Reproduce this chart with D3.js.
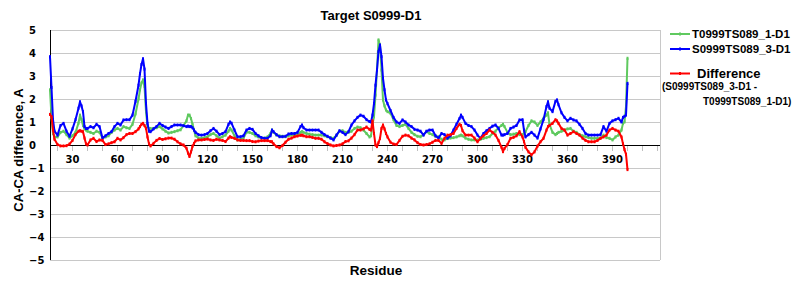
<!DOCTYPE html>
<html>
<head>
<meta charset="utf-8">
<script src="https://cdn.jsdelivr.net/npm/d3@7"></script>
<style>
    body { margin: 0; background: #fff; }
    svg { display: block; }
</style>
</head>
<body>
<svg width="800" height="300"></svg>
<script>
// residue numbers (shared by all three series)
var residues = [15,16,17,18,20,22,24,26,28,30,32,34,35,36,37,38,39,40,42,44,46,48,50,52,54,56,58,60,62,64,66,68,70,72,74,75,76,77,78,79,80,81,82,84,86,88,90,92,94,96,98,100,102,104,106,107,108,109,110,111,112,114,116,118,120,122,124,126,128,130,132,134,135,136,138,140,142,144,146,148,150,152,154,156,158,160,162,163,164,166,168,170,172,174,176,178,180,182,183,184,186,188,190,192,194,196,198,200,202,204,206,208,210,212,214,216,218,220,222,224,226,228,229,230,231,232,233,234,235,236,237,238,239,240,242,244,246,248,250,252,254,256,258,260,262,264,266,268,270,272,274,276,278,280,282,284,286,288,289,290,292,294,296,298,300,302,304,306,308,310,312,314,316,317,318,320,322,324,326,328,330,331,332,334,336,338,340,342,344,346,347,348,350,352,353,354,356,358,360,362,364,366,368,370,372,374,376,378,380,382,384,386,388,390,392,394,396,397,398,399,400];

var model1 = [2.4,1.2,0.5,0.35,0.35,0.55,0.6,0.45,0.3,0.4,0.55,0.95,1.3,1.1,0.85,0.7,0.65,0.6,0.55,0.5,0.6,0.55,0.3,0.35,0.4,0.55,0.65,0.72,0.65,0.8,0.75,0.72,0.9,1.35,2.0,2.4,2.7,2.83,2.55,1.45,0.8,0.72,0.72,0.72,0.75,0.8,0.7,0.6,0.52,0.55,0.58,0.62,0.66,0.85,1.05,1.3,1.3,1.15,0.9,0.65,0.4,0.3,0.29,0.32,0.36,0.45,0.5,0.4,0.3,0.36,0.43,0.6,0.72,0.65,0.4,0.22,0.25,0.3,0.55,0.55,0.5,0.4,0.35,0.3,0.3,0.35,0.5,0.65,0.55,0.43,0.4,0.38,0.36,0.4,0.43,0.43,0.45,0.55,0.58,0.55,0.5,0.47,0.45,0.43,0.43,0.43,0.4,0.36,0.32,0.29,0.42,0.6,0.62,0.55,0.55,0.6,0.72,0.78,0.75,0.65,0.5,0.35,0.4,0.9,1.23,2.17,3.26,4.57,4.35,3.26,1.96,1.7,1.52,1.45,1.38,1.1,0.85,0.8,0.85,0.9,0.72,0.55,0.45,0.38,0.36,0.45,0.58,0.5,0.45,0.38,0.36,0.25,0.22,0.28,0.3,0.32,0.35,0.4,0.43,0.4,0.3,0.25,0.22,0.22,0.22,0.25,0.29,0.32,0.36,0.5,0.6,0.75,0.85,0.9,0.8,0.55,0.45,0.47,0.5,0.45,0.45,0.5,0.58,0.85,1.05,1.0,0.85,1.0,1.16,1.3,1.4,0.9,0.55,0.45,0.5,0.55,0.6,0.65,0.7,0.72,0.6,0.55,0.45,0.4,0.36,0.32,0.29,0.29,0.29,0.3,0.43,0.32,0.29,0.22,0.35,0.43,0.65,0.94,1.0,1.67,3.77];

var model3 = [3.84,2.5,1.1,0.6,0.43,0.85,0.94,0.6,0.38,0.7,1.1,1.6,1.88,1.7,1.45,0.8,0.72,0.72,0.8,0.75,0.9,0.8,0.3,0.4,0.5,0.58,0.8,0.94,0.87,1.09,1.1,1.1,1.3,1.9,2.6,3.1,3.5,3.75,3.3,1.8,0.94,0.6,0.58,0.7,0.8,0.94,0.85,0.78,0.72,0.8,0.87,0.87,0.87,0.84,0.8,0.82,0.8,0.8,0.75,0.65,0.55,0.45,0.43,0.45,0.5,0.62,0.72,0.6,0.45,0.5,0.58,0.9,1.0,0.95,0.65,0.36,0.36,0.4,0.65,0.72,0.68,0.5,0.4,0.32,0.29,0.29,0.4,0.65,0.58,0.45,0.36,0.36,0.38,0.48,0.5,0.5,0.55,0.8,0.87,0.75,0.65,0.65,0.65,0.65,0.65,0.55,0.45,0.38,0.3,0.22,0.43,0.62,0.55,0.45,0.58,0.87,1.05,1.2,1.3,1.25,1.1,1.02,1.0,1.3,1.8,2.6,3.26,4.06,4.35,3.84,2.9,2.4,1.96,1.8,1.5,1.2,1.0,0.94,1.09,1.0,0.87,0.8,0.68,0.65,0.6,0.43,0.6,0.65,0.65,0.4,0.3,0.5,0.45,0.3,0.4,0.65,0.9,1.15,1.3,1.2,0.94,0.85,0.8,0.65,0.43,0.29,0.5,0.62,0.72,0.82,0.87,0.72,0.43,0.43,0.45,0.5,0.72,0.78,0.85,1.09,1.1,0.65,0.35,0.45,0.55,0.43,0.3,0.7,1.1,1.67,1.88,1.6,1.45,1.9,1.96,1.75,1.4,1.2,1.05,1.16,1.09,1.05,0.9,0.72,0.5,0.43,0.43,0.43,0.43,0.45,0.8,0.6,0.94,1.05,1.1,1.16,1.0,1.2,1.25,1.3,2.68];

var diff = [1.33,1.23,0.65,0.25,0.02,-0.04,-0.04,-0.03,0.04,0.2,0.45,0.6,0.62,0.6,0.58,0.3,0.05,0.0,0.22,0.29,0.15,0.22,0.2,0.02,0.05,0.1,0.14,0.29,0.22,0.32,0.45,0.5,0.5,0.58,0.7,0.8,0.9,0.94,0.85,0.72,0.35,0.05,-0.04,0.07,0.2,0.28,0.24,0.27,0.3,0.3,0.25,0.14,0.05,0.0,-0.14,-0.35,-0.5,-0.3,-0.05,0.07,0.18,0.22,0.22,0.24,0.26,0.22,0.2,0.25,0.22,0.2,0.15,0.3,0.36,0.33,0.29,0.22,0.2,0.2,0.19,0.19,0.15,0.14,0.17,0.19,0.19,0.19,0.15,0.14,0.05,-0.07,-0.12,-0.02,0.12,0.25,0.3,0.36,0.39,0.42,0.43,0.4,0.36,0.36,0.33,0.29,0.29,0.25,0.14,0.06,0.0,-0.04,-0.02,0.0,0.05,0.15,0.18,0.3,0.45,0.65,0.65,0.7,0.78,0.68,0.65,1.05,0.5,0.0,-0.07,0.1,0.29,0.72,0.87,0.7,0.5,0.35,0.12,0.04,0.02,0.2,0.38,0.43,0.4,0.3,0.22,0.1,0.02,0.0,0.02,0.05,0.12,0.2,0.2,0.07,0.29,0.43,0.45,0.5,0.72,0.9,0.85,0.62,0.43,0.43,0.43,0.3,0.14,0.29,0.4,0.5,0.65,0.55,0.43,0.2,-0.1,-0.29,-0.15,0.02,0.29,0.33,0.4,0.58,0.35,0.15,-0.1,-0.3,-0.43,-0.3,-0.05,0.14,0.29,0.65,0.8,0.85,0.94,1.1,1.05,0.94,0.72,0.65,0.43,0.5,0.58,0.5,0.43,0.3,0.2,0.14,0.14,0.14,0.2,0.29,0.35,0.43,0.65,0.72,0.65,0.6,0.35,0.05,-0.2,-0.4,-1.07];

var yTicks = [-5,-4,-3,-2,-1,0,1,2,3,4,5];
var xLabels = [30,60,90,120,150,180,210,240,270,300,330,360,390];

var seriesNames = ["T0999TS089_1-D1", "S0999TS089_3-D1", "Difference"];
var seriesColors = ["#5fc95f", "#0000ff", "#ff0000"];
var seriesValues = [model1, model3, diff];

var svg = d3.select("svg");
var boldSans = "'Liberation Sans', Arial, sans-serif";
var boldVerdana = "'DejaVu Sans', Verdana, sans-serif";

var x = d3.scaleLinear().domain([15, 421.67]).range([50, 660]);
var y = d3.scaleLinear().domain([-5, 5]).range([260, 30]);

// horizontal grid
svg.append("g").selectAll("line")
    .data(yTicks)
    .enter().append("line")
    .attr("x1", 50).attr("x2", 660)
    .attr("y1", function (d) { return y(d); })
    .attr("y2", function (d) { return y(d); })
    .attr("stroke", function (d) { return d === 0 ? "#000" : "#c8c8c8"; })
    .attr("stroke-width", 1)
    .attr("shape-rendering", "crispEdges");

// right border
svg.append("line")
    .attr("x1", 660).attr("x2", 660).attr("y1", 30).attr("y2", 260)
    .attr("stroke", "#c8c8c8").attr("shape-rendering", "crispEdges");

// x ticks along zero line
svg.append("g").selectAll("line")
    .data(d3.range(20, 421, 10))
    .enter().append("line")
    .attr("x1", function (d) { return x(d); })
    .attr("x2", function (d) { return x(d); })
    .attr("y1", y(0) + 1).attr("y2", y(0) + 6)
    .attr("stroke", "#c0c0c0")
    .attr("shape-rendering", "crispEdges");

svg.append("g").selectAll("text")
    .data(xLabels)
    .enter().append("text")
    .attr("x", function (d) { return x(d); })
    .attr("y", 163)
    .attr("text-anchor", "middle")
    .style("font", "bold 10px " + boldVerdana)
    .text(function (d) { return d; });

// y labels, left aligned
svg.append("g").selectAll("text")
    .data(yTicks)
    .enter().append("text")
    .attr("x", 29)
    .attr("y", function (d) { return y(d) + 4; })
    .style("font", "bold 10px " + boldVerdana)
    .text(function (d) { return d < 0 ? "\u2212" + Math.abs(d) : d; });

// left axis
svg.append("line")
    .attr("x1", 50).attr("x2", 50).attr("y1", 30).attr("y2", 260)
    .attr("stroke", "#000").attr("shape-rendering", "crispEdges");

// lines
var line = d3.line()
    .x(function (d) { return x(d[0]); })
    .y(function (d) { return y(d[1]); });

seriesValues.forEach(function (vals, i) {
    var pts = residues.map(function (r, k) { return [r, vals[k]]; });
    svg.append("path")
        .datum(pts)
        .attr("fill", "none")
        .attr("stroke", seriesColors[i])
        .attr("stroke-width", 2)
        .attr("stroke-linejoin", "round")
        .attr("d", line);
    svg.append("g").selectAll("rect")
        .data(pts)
        .enter().append("rect")
        .attr("x", function (d) { return x(d[0]) - 1; })
        .attr("y", function (d) { return y(d[1]) - 1.5; })
        .attr("width", 2).attr("height", 3)
        .attr("fill", seriesColors[i]);
});

// titles
svg.append("text")
    .attr("x", 371).attr("y", 20)
    .attr("text-anchor", "middle")
    .style("font", "bold 13px " + boldSans)
    .text("Target S0999-D1");

svg.append("text")
    .attr("x", 376).attr("y", 275)
    .attr("text-anchor", "middle")
    .style("font", "bold 13.5px " + boldSans)
    .text("Residue");

svg.append("text")
    .attr("transform", "translate(23,150) rotate(-90)")
    .attr("text-anchor", "middle")
    .style("font", "bold 13px " + boldSans)
    .text("CA-CA difference, A");

// legend
var legendY = [34, 49, 73.5];
seriesNames.forEach(function (name, i) {
    var g = svg.append("g");
    g.append("line")
        .attr("x1", 670).attr("x2", 690)
        .attr("y1", legendY[i]).attr("y2", legendY[i])
        .attr("stroke", seriesColors[i]).attr("stroke-width", 2);
    g.append("rect")
        .attr("x", 679).attr("y", legendY[i] - 1.5)
        .attr("width", 2).attr("height", 3)
        .attr("fill", seriesColors[i]);
    g.append("text")
        .attr("x", i === 2 ? 697 : 692)
        .attr("y", legendY[i] + 4)
        .style("font", (i === 2 ? "bold 13px " : "bold 11.5px ") + boldSans)
        .text(name);
});
svg.append("text")
    .attr("x", 662).attr("y", 89.5)
    .style("font", "bold 10px " + boldSans)
    .text("(S0999TS089_3-D1 -");
svg.append("text")
    .attr("x", 703).attr("y", 105)
    .style("font", "bold 10px " + boldSans)
    .text("T0999TS089_1-D1)");
</script>
</body>
</html>
